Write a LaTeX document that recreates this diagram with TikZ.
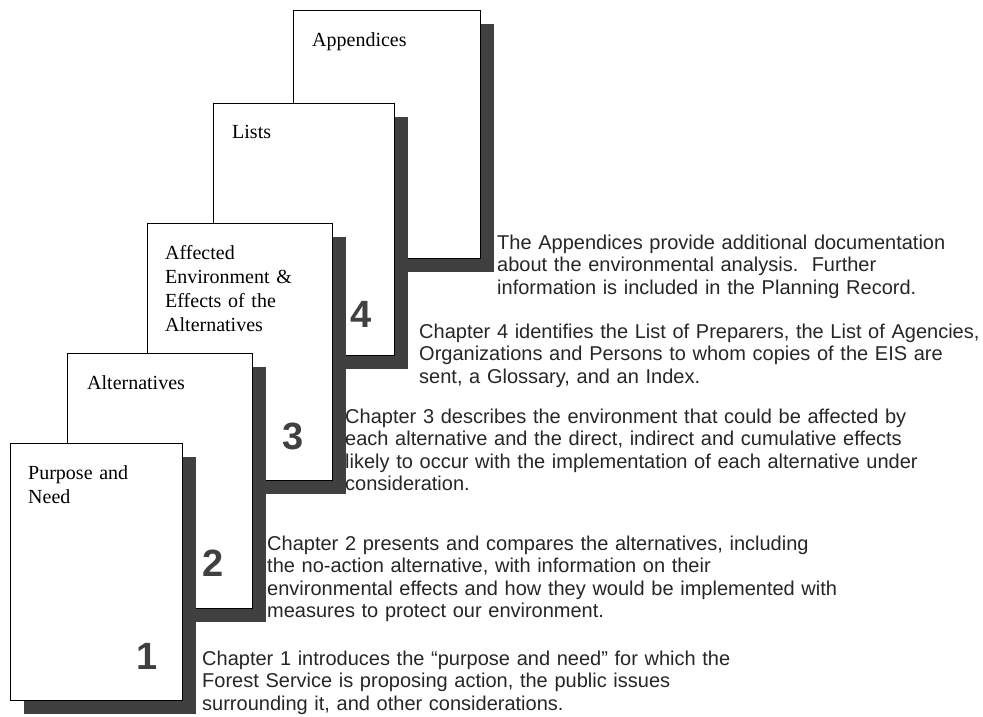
\documentclass[tikz,border=0pt]{standalone}
\usepackage{fontspec}
\setmainfont{Liberation Serif}
\newfontfamily\arialfont{Liberation Sans}
\usetikzlibrary{shadows}
\begin{document}
\begin{tikzpicture}[x=1pt,y=-1pt,
 page/.style={draw=black, line width=1.2pt, fill=white, anchor=north west, inner sep=0pt,
   drop shadow={shadow xshift=13pt, shadow yshift=-13pt, fill=black!75, opacity=1}},
 ptitle/.style={anchor=base west, inner sep=0pt, text width=170pt, align=left,
   font=\fontsize{20}{24}\selectfont, text=black},
 pnum/.style={anchor=base, inner sep=0pt, font=\arialfont\bfseries\fontsize{38}{40}\selectfont, text=black!75},
 desc/.style={anchor=base west, inner sep=0pt, text width=600pt, align=left,
   font=\arialfont\fontsize{20}{22.5}\selectfont, text=black!85}]
\fill[white] (0,0) rectangle (983,716);
\useasboundingbox (0,0) rectangle (983,716);

% pages, back to front
\node[page, minimum width=187pt, minimum height=248pt] (p5) at (293,10) {};
\node[page, minimum width=181pt, minimum height=252pt] (p4) at (213,103) {};
\node[page, minimum width=185pt, minimum height=257pt] (p3) at (147,223) {};
\node[page, minimum width=185pt, minimum height=255pt] (p2) at (67,353) {};
\node[page, minimum width=172pt, minimum height=257pt] (p1) at (10,443) {};

% page titles
\node[ptitle] (t5) at (312,46) {Appendices};
\node[ptitle] (t4) at (232,138) {Lists};
\node[ptitle] (t3) at (165,259) {Affected\\Environment \&\\Effects of the\\Alternatives};
\node[ptitle] (t2) at (87,389) {Alternatives};
\node[ptitle] (t1) at (28,479) {Purpose and\\Need};

% chapter numbers
\node[pnum] (n4) at (361,327) {4};
\node[pnum] (n3) at (293,449) {3};
\node[pnum] (n2) at (213,576) {2};
\node[pnum] (n1) at (147,669) {1};

% descriptions
\node[desc] (d5) at (497,249) {The Appendices provide additional documentation\\about the environmental analysis.\ \ Further\\information is included in the Planning Record.};
\node[desc] (d4) at (419,338) {Chapter 4 identifies the List of Preparers, the List of Agencies,\\Organizations and Persons to whom copies of the EIS are\\sent, a Glossary, and an Index.};
\node[desc] (d3) at (345,423) {Chapter 3 describes the environment that could be affected by\\each alternative and the direct, indirect and cumulative effects\\likely to occur with the implementation of each alternative under\\consideration.};
\node[desc] (d2) at (267,550) {Chapter 2 presents and compares the alternatives, including\\the no-action alternative, with information on their\\environmental effects and how they would be implemented with\\measures to protect our environment.};
\node[desc] (d1) at (202,665) {Chapter 1 introduces the “purpose and need” for which the\\Forest Service is proposing action, the public issues\\surrounding it, and other considerations.};
\end{tikzpicture}
\end{document}
